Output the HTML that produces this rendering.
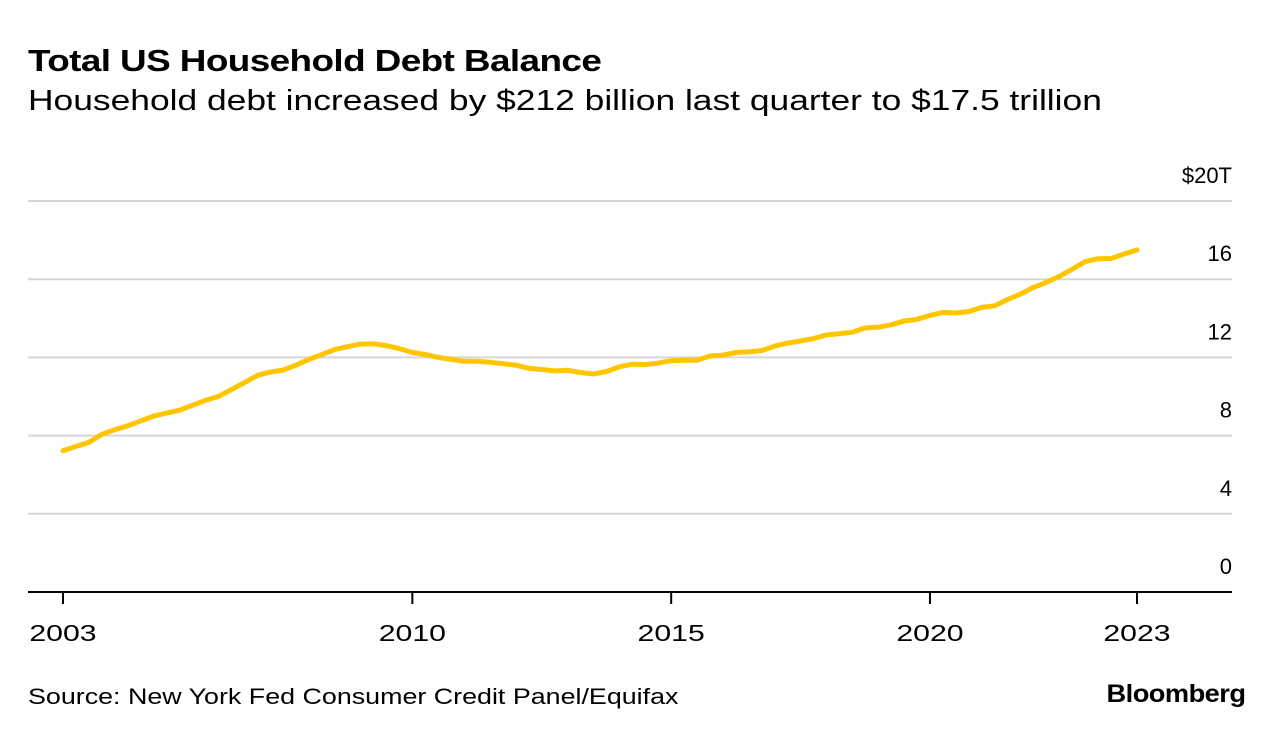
<!DOCTYPE html>
<html><head><meta charset="utf-8">
<style>
body{margin:0;background:#fff;font-family:"Liberation Sans",sans-serif;}
#wrap{position:relative;width:1285px;height:740px;overflow:hidden;}
.t{position:absolute;white-space:nowrap;color:#000;transform-origin:left top;}
</style></head><body>
<div id="wrap">
<div class="t" style="left:28px;top:43px;font-size:31px;font-weight:bold;letter-spacing:-0.5px;transform:scaleX(1.19);">Total US Household Debt Balance</div>
<div class="t" style="left:28px;top:85px;font-size:29px;transform:scaleX(1.22);">Household debt increased by $212 billion last quarter to $17.5 trillion</div>
<svg id="chart" width="1285" height="740" style="position:absolute;left:0;top:0"></svg>
<div class="t" style="left:28px;top:684px;font-size:22px;transform:scaleX(1.22);">Source: New York Fed Consumer Credit Panel/Equifax</div>
<div class="t" style="right:40px;top:680px;font-size:25px;font-weight:bold;letter-spacing:-0.5px;transform-origin:right top;transform:scaleX(1.09);">Bloomberg</div>
</div>
<script>
const values = [
7.23,7.45,7.65,8.06, 8.3,8.5,8.75,9.0, 9.15,9.3,9.55,9.8, 10.0,10.35,10.7,11.07,
11.25,11.35,11.6,11.9, 12.15,12.4,12.55,12.68, 12.7,12.6,12.45,12.25,
12.15,12.0,11.9,11.8, 11.8,11.75,11.68,11.6, 11.44,11.38,11.31,11.34,
11.23,11.15,11.28,11.52, 11.65,11.63,11.71,11.83, 11.85,11.85,12.07,12.12,
12.25,12.29,12.35,12.58, 12.73,12.84,12.96,13.15, 13.21,13.29,13.51,13.54,
13.67,13.86,13.95,14.15, 14.30,14.27,14.35,14.56, 14.64,14.96,15.24,15.58,
15.84,16.15,16.51,16.90, 17.05,17.06,17.29,17.50];
const yTicks = [0,4,8,12,16,20];
const yTickLabels = ["0","4","8","12","16","$20T"];
const xTickIdx = [0,27,47,67,83];
const xTickLabels = ["2003","2010","2015","2020","2023"];

const svg = document.getElementById('chart');
const NS = 'http://www.w3.org/2000/svg';
const x0=63, x1=1137, y0=592, yTop=201;
const xs = i => x0 + (x1-x0)*i/(values.length-1);
const ys = v => y0 - (y0-yTop)*v/20;
function mk(tag, attrs){const e=document.createElementNS(NS,tag);for(const k in attrs)e.setAttribute(k,attrs[k]);svg.appendChild(e);return e;}

yTicks.forEach((v,i)=>{
  if(v>0){
    const g=mk('line',{x1:28,x2:1232,y1:ys(v),y2:ys(v),stroke:'#d6d6d6','stroke-width':2});
    
    
  }
  const t=mk('text',{x:1232,y:ys(v)-18,'text-anchor':'end','font-size':22,fill:'#000','font-family':'Liberation Sans, sans-serif'});
  t.textContent=yTickLabels[i];
  
  
});
const base=mk('line',{x1:28,x2:1232,y1:y0,y2:y0,stroke:'#000','stroke-width':2});


xTickIdx.forEach((idx,i)=>{
  const tk=mk('line',{x1:xs(idx),x2:xs(idx),y1:y0,y2:y0+12,stroke:'#000','stroke-width':2});
  
  
  const t=mk('text',{x:xs(idx),y:641,'text-anchor':'middle','font-size':23,fill:'#000','font-family':'Liberation Sans, sans-serif',textLength:xTickLabels[i].length*16.8,lengthAdjust:'spacingAndGlyphs'});
  t.textContent=xTickLabels[i];
  
  
});
const d=values.map((v,i)=>(i?'L':'M')+xs(i).toFixed(1)+','+ys(v).toFixed(1)).join('');
const p=mk('path',{d:d,fill:'none',stroke:'#ffc600','stroke-width':5,'stroke-linejoin':'round','stroke-linecap':'round'});


</script>
</body></html>
